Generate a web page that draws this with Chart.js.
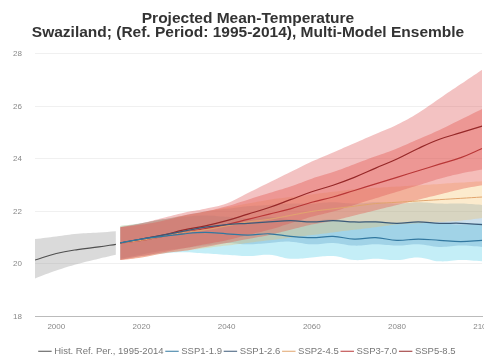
<!DOCTYPE html>
<html>
<head>
<meta charset="utf-8">
<script src="https://cdn.jsdelivr.net/npm/chart.js@4"></script>
<style>
  html, body { margin: 0; padding: 0; background: #fff; overflow: hidden; }
  #wrap { width: 496px; height: 358px; }
</style>
</head>
<body>
<div id="wrap"><canvas id="myChart" width="496" height="358"></canvas></div>
<script>
// Historical reference period (1995-2014)
const histYears = [1995, 2000, 2005, 2010, 2014];
const histMean = [20.15, 20.4, 20.55, 20.65, 20.75];
const histLow = [19.45, 19.75, 20.0, 20.2, 20.35];
const histHigh = [20.95, 21.05, 21.15, 21.2, 21.25];

// Projection years
const years = [2015, 2020, 2025, 2030, 2035, 2040, 2045, 2050, 2055, 2060, 2065, 2070, 2075, 2080, 2085, 2090, 2095, 2100];

const ssp119Mean = [20.8, 20.95, 21.05, 21.15, 21.2, 21.15, 21.1, 21.15, 21.05, 21.0, 21.05, 20.95, 21.0, 20.9, 20.95, 20.9, 20.85, 20.9];
const ssp119Low = [20.15, 20.3, 20.4, 20.45, 20.4, 20.35, 20.3, 20.35, 20.2, 20.25, 20.3, 20.15, 20.2, 20.15, 20.25, 20.1, 20.15, 20.1];
const ssp119High = [21.45, 21.55, 21.7, 21.8, 21.85, 21.8, 21.75, 21.8, 21.7, 21.65, 21.7, 21.6, 21.65, 21.55, 21.6, 21.55, 21.5, 21.55];

const ssp126Mean = [20.8, 20.95, 21.1, 21.25, 21.4, 21.5, 21.55, 21.6, 21.65, 21.6, 21.65, 21.6, 21.6, 21.55, 21.6, 21.55, 21.55, 21.5];
const ssp126Low = [20.2, 20.35, 20.5, 20.6, 20.7, 20.8, 20.75, 20.8, 20.85, 20.75, 20.8, 20.7, 20.75, 20.7, 20.75, 20.65, 20.7, 20.65];
const ssp126High = [21.4, 21.55, 21.7, 21.85, 22.0, 22.1, 22.2, 22.25, 22.3, 22.3, 22.35, 22.3, 22.35, 22.3, 22.35, 22.3, 22.3, 22.25];

const ssp245Mean = [20.8, 20.9, 21.05, 21.2, 21.3, 21.45, 21.6, 21.7, 21.85, 22.0, 22.1, 22.2, 22.3, 22.35, 22.4, 22.45, 22.5, 22.55];
const ssp245Low = [20.15, 20.25, 20.4, 20.5, 20.6, 20.7, 20.8, 20.9, 21.0, 21.1, 21.2, 21.3, 21.4, 21.5, 21.55, 21.6, 21.65, 21.75];
const ssp245High = [21.45, 21.55, 21.7, 21.85, 22.0, 22.15, 22.3, 22.45, 22.55, 22.65, 22.75, 22.85, 22.9, 22.95, 23.0, 23.05, 23.1, 23.15];

const ssp370Mean = [20.8, 20.9, 21.05, 21.2, 21.35, 21.5, 21.7, 21.9, 22.1, 22.35, 22.55, 22.8, 23.05, 23.3, 23.55, 23.8, 24.05, 24.4];
const ssp370Low = [20.15, 20.25, 20.4, 20.5, 20.65, 20.8, 20.95, 21.1, 21.3, 21.5, 21.65, 21.85, 22.05, 22.25, 22.45, 22.65, 22.85, 23.0];
const ssp370High = [21.4, 21.5, 21.65, 21.85, 22.0, 22.2, 22.45, 22.7, 22.95, 23.25, 23.5, 23.8, 24.1, 24.4, 24.75, 25.1, 25.5, 25.9];

const ssp585Mean = [20.8, 20.95, 21.1, 21.3, 21.45, 21.65, 21.9, 22.15, 22.45, 22.75, 23.0, 23.3, 23.65, 24.0, 24.4, 24.75, 25.0, 25.25];
const ssp585Low = [20.15, 20.3, 20.45, 20.6, 20.75, 20.9, 21.1, 21.3, 21.55, 21.8, 22.0, 22.25, 22.5, 22.75, 23.0, 23.25, 23.45, 23.6];
const ssp585High = [21.4, 21.55, 21.75, 21.95, 22.1, 22.3, 22.7, 23.1, 23.5, 23.9, 24.25, 24.6, 24.95, 25.3, 25.75, 26.3, 26.85, 27.4];

const xTicks = [2000, 2020, 2040, 2060, 2080, 2100];
const yTicks = [18, 20, 22, 24, 26, 28];

const toPoints = (xs, ys) => xs.map((x, i) => ({ x: x, y: ys[i] }));

// band = upper edge (no fill) + lower edge filled back to it
// lower "order" is drawn on top
function band(xs, lo, hi, color, order) {
  return [
    { label: "_hi", data: toPoints(xs, hi), borderWidth: 0, pointRadius: 0, fill: false, tension: 0.4, order: order },
    { label: "_lo", data: toPoints(xs, lo), borderWidth: 0, pointRadius: 0, fill: "-1", backgroundColor: color, tension: 0.4, order: order },
  ];
}

function meanLine(label, xs, ys, color, width) {
  return { label: label, data: toPoints(xs, ys), borderColor: color, backgroundColor: color,
           borderWidth: width || 1.2, pointRadius: 0, fill: false, tension: 0.4, order: 0 };
}

const ctx = document.getElementById("myChart").getContext("2d");
const chart = new Chart(ctx, {
  type: "line",
  data: {
    datasets: [
      ...band(histYears, histLow, histHigh, "rgba(150,150,150,0.35)", 6),
      ...band(years, ssp119Low, ssp119High, "rgba(60,200,230,0.3)", 5),
      ...band(years, ssp126Low, ssp126High, "rgba(70,140,190,0.28)", 4),
      ...band(years, ssp245Low, ssp245High, "rgba(245,190,90,0.3)", 3),
      ...band(years, ssp370Low, ssp370High, "rgba(230,90,80,0.4)", 2),
      ...band(years, ssp585Low, ssp585High, "rgba(220,80,80,0.35)", 1),
      meanLine("Hist. Ref. Per., 1995-2014", histYears, histMean, "rgb(80,80,80)"),
      meanLine("SSP1-1.9", years, ssp119Mean, "rgb(50,120,160)"),
      meanLine("SSP1-2.6", years, ssp126Mean, "rgb(60,90,120)"),
      meanLine("SSP2-4.5", years, ssp245Mean, "rgb(225,165,110)", 1),
      meanLine("SSP3-7.0", years, ssp370Mean, "rgb(185,55,55)"),
      meanLine("SSP5-8.5", years, ssp585Mean, "rgb(150,40,40)"),
    ],
  },
  options: {
    responsive: false,
    animation: false,
    layout: { padding: { left: 0, right: 0, top: 0, bottom: -8 } },
    plugins: {
      title: {
        display: true,
        text: ["Projected Mean-Temperature", "Swaziland; (Ref. Period: 1995-2014), Multi-Model Ensemble"],
        color: "#333",
        font: { family: "Liberation Sans, Arial, sans-serif", size: 15.5, weight: "bold", lineHeight: 0.9 },
        padding: { top: 12, bottom: 14 },
      },
      legend: {
        position: "bottom",
        labels: {
          filter: (item) => !item.text.startsWith("_"),
          usePointStyle: true,
          pointStyle: "line",
          boxWidth: 9,
          padding: 4,
          color: "#777",
          font: { family: "Liberation Sans, Arial, sans-serif", size: 9.5 },
        },
      },
      tooltip: { enabled: false },
    },
    scales: {
      x: {
        type: "linear",
        min: 1995,
        max: 2100,
        afterBuildTicks: (scale) => { scale.ticks = xTicks.map((v) => ({ value: v })); },
        ticks: { color: "#888", font: { size: 8 }, maxRotation: 0, padding: 5, callback: (v) => String(v) },
        grid: { display: false, drawTicks: false },
        border: { color: "#bbb", width: 1 },
        afterFit: (scale) => { scale.height = 26; },
      },
      y: {
        min: 18,
        max: 28,
        afterBuildTicks: (scale) => { scale.ticks = yTicks.map((v) => ({ value: v })); },
        ticks: { color: "#888", font: { size: 8 }, padding: 13, callback: (v) => String(v) },
        grid: { color: "#f0f0f0", drawTicks: false },
        border: { display: false },
        afterFit: (scale) => { scale.width = 35; },
      },
    },
  },
});
</script>
</body>
</html>
